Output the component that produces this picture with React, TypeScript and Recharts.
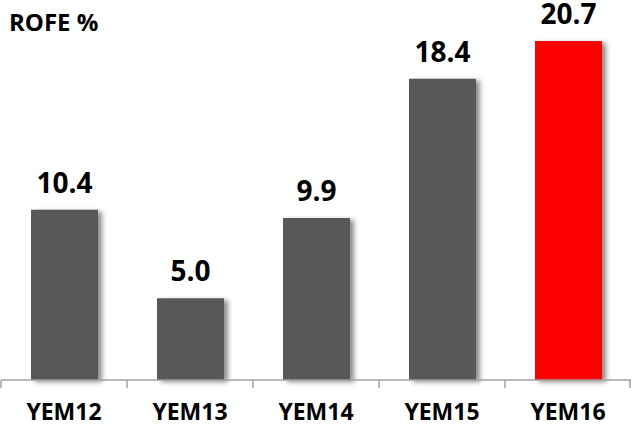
import React from 'react';
import { BarChart, Bar, XAxis, YAxis, Cell, LabelList } from 'recharts';

const categories = ['YEM12', 'YEM13', 'YEM14', 'YEM15', 'YEM16'];
const rofeValues = [10.4, 5.0, 9.9, 18.4, 20.7];
const barColors = ['#595959', '#595959', '#595959', '#595959', '#ff0000'];

const data = categories.map((name, i) => ({ name, rofe: rofeValues[i] }));

const W = 631;
const H = 427;
const MARGIN = { top: 10, right: 0, left: 1, bottom: 0 };
const BAND = (W - MARGIN.left - MARGIN.right) / categories.length;
const FONT = '"Open Sans", Lato, sans-serif';

// category labels plus the boundary tick marks under the axis
const AxisTick = (props: any) => {
  const { x, y, payload, index } = props;
  const last = index === categories.length - 1;
  return (
    <g>
      <line x1={x - BAND / 2} x2={x - BAND / 2} y1={y} y2={y + 8} stroke="#a0a0a0" strokeWidth={1.5} />
      {last && (
        <line x1={Math.min(x + BAND / 2, W - 1)} x2={Math.min(x + BAND / 2, W - 1)} y1={y} y2={y + 8} stroke="#a0a0a0" strokeWidth={1.5} />
      )}
      <text x={x} y={y + 40} textAnchor="middle" fontFamily={FONT} fontWeight={700} fontSize={23} fill="#000">
        {payload.value}
      </text>
    </g>
  );
};

const App: React.FC = () => {
  return (
    <div style={{ position: 'fixed', left: 0, top: 0, width: W, height: H, background: '#fff' }}>
      <div style={{ position: 'absolute', left: 9, top: 5, fontFamily: FONT, fontWeight: 700, fontSize: 24, color: '#000' }}>
        ROFE %
      </div>
      <BarChart width={W} height={H} data={data} margin={MARGIN}>
        <defs>
          <filter id="barShadow" x="-20%" y="-10%" width="150%" height="120%">
            <feDropShadow dx={4} dy={2} stdDeviation={2.5} floodColor="#000" floodOpacity={0.45} />
          </filter>
        </defs>
        <XAxis
          dataKey="name"
          height={47}
          tickLine={false}
          tickSize={0}
          tickMargin={0}
          axisLine={{ stroke: '#a0a0a0', strokeWidth: 1.5 }}
          tick={<AxisTick />}
          interval={0}
        />
        <YAxis hide domain={[0, 22.6]} />
        <Bar dataKey="rofe" barSize={67} isAnimationActive={false} style={{ filter: 'url(#barShadow)' }}>
          {data.map((d, i) => (
            <Cell key={d.name} fill={barColors[i]} />
          ))}
          <LabelList
            dataKey="rofe"
            position="top"
            offset={17}
            formatter={(v: any) => Number(v).toFixed(1)}
            style={{ fontFamily: FONT, fontWeight: 700, fontSize: 28, fill: '#000' }}
          />
        </Bar>
      </BarChart>
    </div>
  );
};

export default App;
